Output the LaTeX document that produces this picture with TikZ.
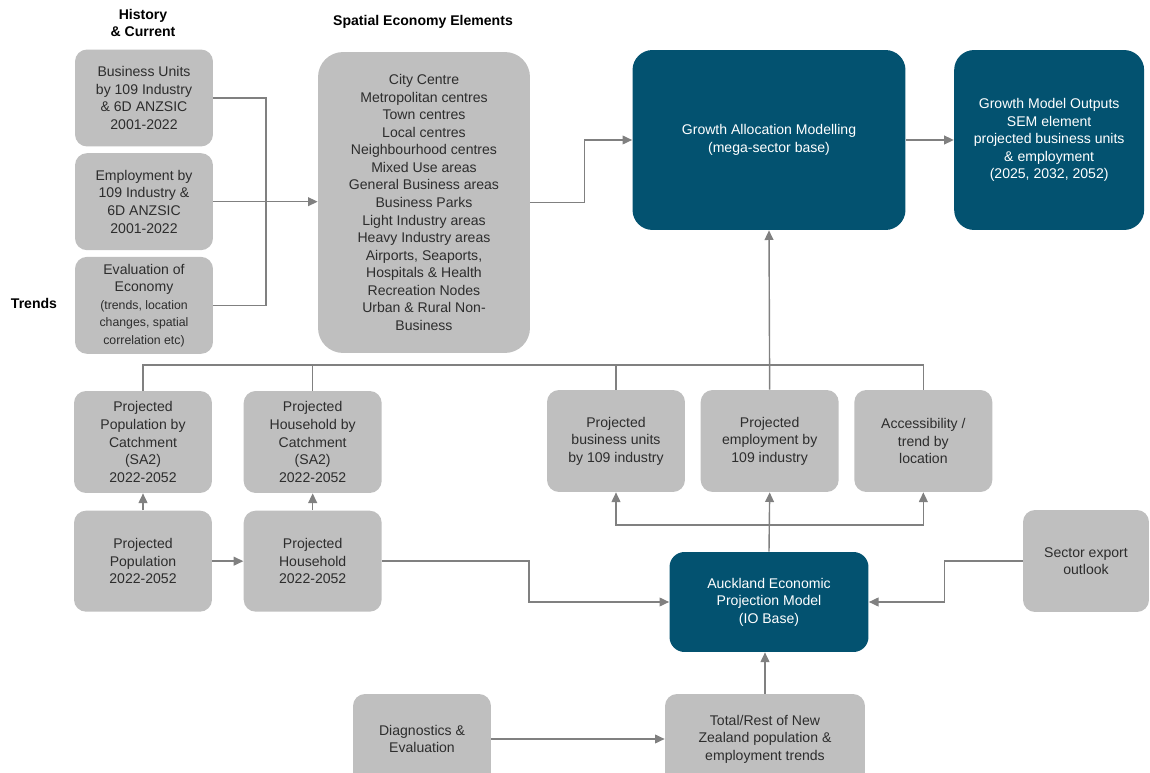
\documentclass[tikz,border=0pt]{standalone}
\usepackage{fontspec}
\setmainfont{Liberation Sans}
\usetikzlibrary{positioning,arrows.meta}
\definecolor{boxgray}{RGB}{191,191,191}
\definecolor{boxtext}{RGB}{45,45,45}
\definecolor{modelblue}{RGB}{3,82,112}
\definecolor{linegray}{RGB}{128,128,128}

\begin{document}
\begin{tikzpicture}[x=0.02cm, y=-0.02cm, node distance=0.12cm,
    every node/.style={font=\fontsize{8}{10}\selectfont},
    gbox/.style={fill=boxgray, text=boxtext, rounded corners=0.24cm, align=center, inner sep=1pt, minimum width=2.76cm, minimum height=1.94cm},
    bbox/.style={fill=modelblue, text=white, rounded corners=0.4cm, align=center, inner sep=1pt},
    head/.style={font=\fontsize{8}{10}\selectfont\bfseries, align=center},
    link/.style={draw=linegray, line width=0.8pt},
    >={Triangle[length=5.5pt, width=5pt]}]
    \useasboundingbox (0,0) rectangle (1150,773);

    \node[head] (hist) at (143,23) {History\\\& Current};
    \node[head] (spatial) at (423,22) {Spatial Economy Elements};
    \node[head] (trends) at (34,303) {Trends};

    \node[gbox] (bu) at (144,98) {Business Units\\by 109 Industry\\\& 6D ANZSIC\\2001-2022};
    \node[gbox, below=of bu] (emp) {Employment by\\109 Industry \&\\6D ANZSIC\\2001-2022};
    \node[gbox, below=of emp] (evaleco) {Evaluation of\\Economy\\{\fontsize{7}{10}\selectfont (trends, location}\\{\fontsize{7}{10}\selectfont changes, spatial}\\{\fontsize{7}{10}\selectfont correlation etc)}};

    \node[gbox, minimum width=4.24cm, minimum height=6.02cm, rounded corners=0.5cm] (sem) at (424,202.5) {City Centre\\Metropolitan centres\\Town centres\\Local centres\\Neighbourhood centres\\Mixed Use areas\\General Business areas\\Business Parks\\Light Industry areas\\Heavy Industry areas\\Airports, Seaports,\\Hospitals \& Health\\Recreation Nodes\\Urban \& Rural Non-\\Business};

    \node[bbox, minimum width=5.46cm, minimum height=3.6cm] (gam) at (769,140) {Growth Allocation Modelling\\(mega-sector base)};
    \node[bbox, minimum width=3.8cm, minimum height=3.6cm, right=0.96cm of gam] (gmo) {Growth Model Outputs\\SEM element\\projected business units\\\& employment\\(2025, 2032, 2052)};

    \node[gbox, minimum height=2.04cm] (ppc) at (143,442) {Projected\\Population by\\Catchment\\(SA2)\\2022-2052};
    \node[gbox, minimum height=2.04cm, right=0.62cm of ppc] (phc) {Projected\\Household by\\Catchment\\(SA2)\\2022-2052};
    \node[gbox, minimum height=2.02cm, below=0.34cm of ppc] (pp) {Projected\\Population\\2022-2052};
    \node[gbox, minimum height=2.02cm, below=0.34cm of phc] (ph) {Projected\\Household\\2022-2052};

    \node[gbox, minimum height=2.04cm] (pbu) at (616,441) {Projected\\business units\\by 109 industry};
    \node[gbox, minimum height=2.04cm, right=0.3cm of pbu] (pemp) {Projected\\employment by\\109 industry};
    \node[gbox, minimum height=2.04cm, right=0.3cm of pemp] (acc) {Accessibility /\\trend by\\location};

    \node[bbox, minimum width=3.98cm, minimum height=2cm, rounded corners=0.3cm] (aepm) at (769,602) {Auckland Economic\\Projection Model\\(IO Base)};
    \node[gbox, minimum width=2.52cm, minimum height=2.04cm] (sector) at (1086,561) {Sector export\\outlook};

    \node[gbox, minimum height=1.8cm] (diag) at (422,739) {Diagnostics \&\\Evaluation};
    \node[gbox, minimum width=4cm, minimum height=1.8cm] (nz) at (765,739) {Total/Rest of New\\Zealand population \&\\employment trends};

    \coordinate (join) at (266,0);
    \coordinate (bus) at (0,365);
    \coordinate (split) at (0,525);

    \draw[link] (bu.east) -| (join |- evaleco.east) -- (evaleco.east);
    \draw[link, ->] (emp.east) -- (emp.east -| sem.west);
    \draw[link, ->] (sem.east) -- ++(54,0) |- (gam.west);
    \draw[link, ->] (gam) -- (gmo);

    \draw[link] (ppc.north) |- (bus -| acc.north) -- (acc.north);
    \draw[link] (phc.north) -- (phc.north |- bus);
    \draw[link] (pbu.north) -- (pbu.north |- bus);
    \draw[link, ->] (pemp.north) -- (gam.south);

    \draw[link, ->] (pp) -- (ppc);
    \draw[link, ->] (ph) -- (phc);
    \draw[link, ->] (pp) -- (ph);
    \draw[link, ->] (ph.east) -- ++(147,0) |- (aepm.west);

    \draw[link, ->] (aepm.north) -- (pemp.south);
    \draw[link, ->] (pemp.south |- split) -| (pbu.south);
    \draw[link, ->] (pemp.south |- split) -| (acc.south);

    \draw[link, ->] (sector.west) -- ++(-78,0) |- (aepm.east);
    \draw[link, ->] (nz.north) -- (nz.north |- aepm.south);
    \draw[link, ->] (diag) -- (nz);
\end{tikzpicture}
\end{document}
